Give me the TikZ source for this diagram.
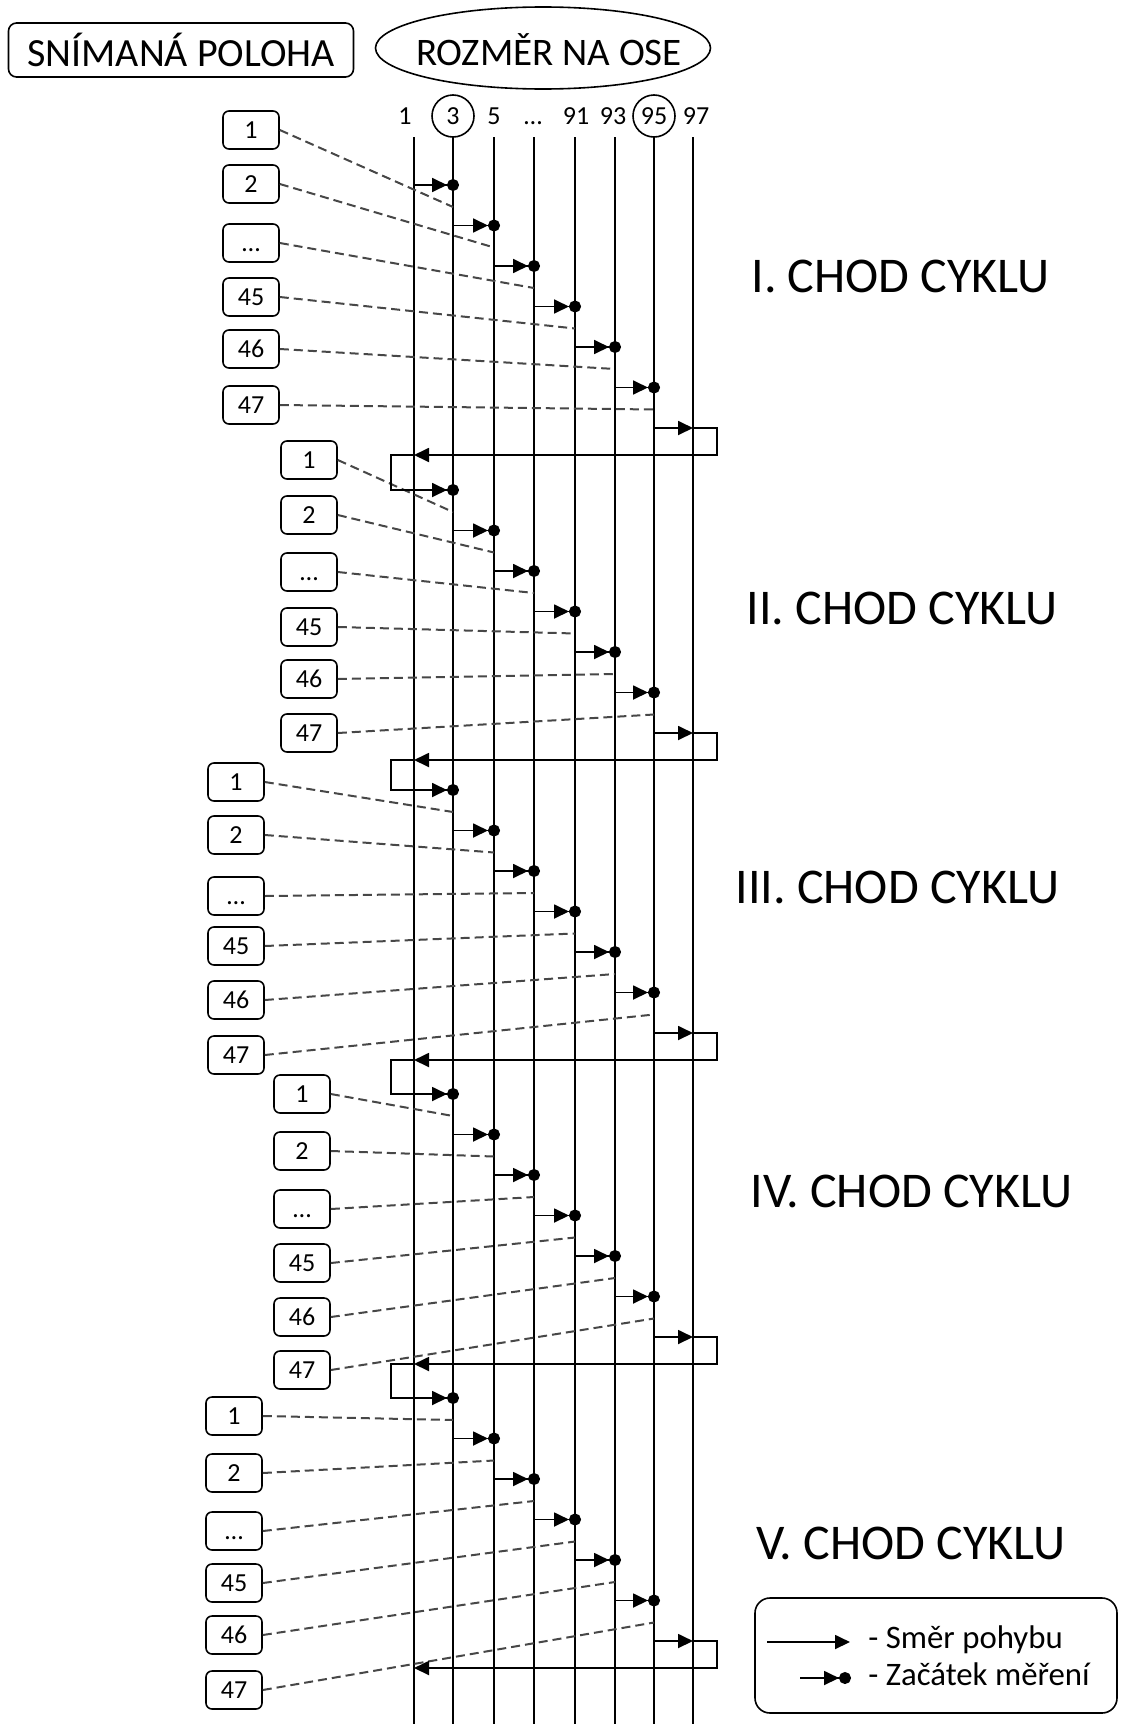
\documentclass[tikz,border=0pt]{standalone}
\usepackage{fontspec}
\setmainfont{Carlito}
\usetikzlibrary{arrows.meta}
\begin{document}
\begin{tikzpicture}[x=0.5pt,y=-0.5pt,
  axisline/.style={line width=0.9pt},
  movearrow/.style={line width=0.9pt,-{Triangle[length=7.5pt,width=7pt]}},
  startarrow/.style={line width=0.9pt,shorten >=-3pt,
    -{Triangle[length=7.5pt,width=7pt]Circle[length=6pt,width=6pt]}},
  posbox/.style={draw,rounded corners=3pt,line width=0.8pt,minimum width=28pt,
    minimum height=19pt,inner sep=0pt,text height=8.2pt,text depth=0pt,
    font=\fontsize{13}{15}\selectfont},
  link/.style={line width=1pt,black!72,dash pattern=on 4.5pt off 2.5pt},
  axislabel/.style={anchor=base,inner sep=0pt,font=\fontsize{13}{15}\selectfont},
  ring/.style={circle,draw,line width=0.8pt,minimum size=21pt,inner sep=0pt,
    font=\fontsize{13}{15}\selectfont},
  cyclelabel/.style={anchor=base west,inner sep=0pt,font=\fontsize{25}{30}\selectfont},
  legendtext/.style={anchor=base west,inner sep=0pt,font=\fontsize{16.4}{20}\selectfont},
]
\useasboundingbox (0,0) rectangle (1121,1724);

% headings
\node[draw,rounded corners=4pt,line width=0.8pt,minimum width=172.5pt,
  minimum height=27pt,inner sep=0pt,font=\fontsize{20}{24}\selectfont]
  (snim) at (181,50) {SNÍMANÁ POLOHA};
\node[inner sep=0pt,font=\fontsize{19.5}{24}\selectfont]
  (rozm) at (549,50) {ROZMĚR NA OSE};
\coordinate (rozmc) at (543,48);
\draw[line width=0.8pt] (rozmc) ellipse [x radius=83.75pt, y radius=20.5pt];

% axis positions
\foreach \i/\x/\t in {0/405/1,2/494/5,3/533/…,4/576/91,5/613/93,7/696/97}
  \node[axislabel] (h\i) at (\x,124) {\t};
\node[ring] (h1) at (453,116) {3};
\node[ring] (h6) at (654,116) {95};

\foreach \i/\x in {0/414,1/453,2/494,3/534,4/575,5/615,6/654,7/693} {
  \coordinate (top\i) at (\x,137);
  \coordinate (bot\i) at (\x,1724);
  \draw[axisline] (top\i) -- (bot\i);
}

% measuring cycles
\foreach \c/\y/\bx/\ya/\yb/\yc/\yd/\ye/\yf in {
  1/185/251/130/184/243/297/349/405,
  2/490/309/460/515/572/627/679/733,
  3/790/236/782/835/896/946/1000/1055,
  4/1094/302/1094/1151/1209/1263/1317/1370,
  5/1398/234/1416/1473/1531/1583/1635/1690} {
  \foreach \k/\by/\t in {0/\ya/1,1/\yb/2,2/\yc/…,3/\yd/45,4/\ye/46,5/\yf/47} {
    \node[posbox] (p\c-\k) at (\bx,\by) {\t};
    \pgfmathsetmacro\ys{\y+40.5*\k}
    \pgfmathsetmacro\xs{{414,453,494,534,575,615,654,693}[\k]}
    \pgfmathsetmacro\xe{{414,453,494,534,575,615,654,693}[\k+1]}
    \coordinate (s\c-\k) at (\xs,\ys);
    \coordinate (e\c-\k) at (\xe,\ys);
    \coordinate (m\c-\k) at (\xe,\ys+22);
    \draw[link] (p\c-\k.east) -- (m\c-\k);
    \draw[startarrow] (s\c-\k) -- (e\c-\k);
  }
  \pgfmathsetmacro\ysix{\y+243}
  \pgfmathsetmacro\yret{\y+270}
  \coordinate (s\c-6) at (654,\ysix);
  \coordinate (e\c-6) at (693,\ysix);
  \coordinate (ca\c) at (717,\ysix);
  \coordinate (cb\c) at (717,\yret);
  \coordinate (r\c) at (414,\yret);
  \draw[movearrow] (s\c-6) -- (e\c-6);
  \draw[movearrow] (e\c-6) -- (ca\c) -- (cb\c) -- (r\c);
}

% loops back to the start of the next cycle
\foreach \c/\n in {1/2,2/3,3/4,4/5}
  \draw[axisline] (r\c) -- ++(-23,0) |- (s\n-0);

% cycle titles
\node[cyclelabel] (cyc1) at (751,292) {I. CHOD CYKLU};
\node[cyclelabel] (cyc2) at (746,624) {II. CHOD CYKLU};
\node[cyclelabel] (cyc3) at (735,903) {III. CHOD CYKLU};
\node[cyclelabel] (cyc4) at (750,1207) {IV. CHOD CYKLU};
\node[cyclelabel] (cyc5) at (756,1559) {V. CHOD CYKLU};

% legend
\node[draw,rounded corners=7.5pt,line width=0.8pt,minimum width=181pt,
  minimum height=57.5pt,inner sep=0pt] (legend) at (936,1655.5) {};
\coordinate (la) at (767,1642);
\coordinate (lb) at (850,1642);
\draw[movearrow] (la) -- (lb);
\node[legendtext] (lt1) at (868,1648) {- Směr pohybu};
\coordinate (lc) at (800,1678);
\coordinate (ld) at (845,1678);
\draw[startarrow] (lc) -- (ld);
\node[legendtext] (lt2) at (868,1685) {- Začátek měření};
\end{tikzpicture}
\end{document}
